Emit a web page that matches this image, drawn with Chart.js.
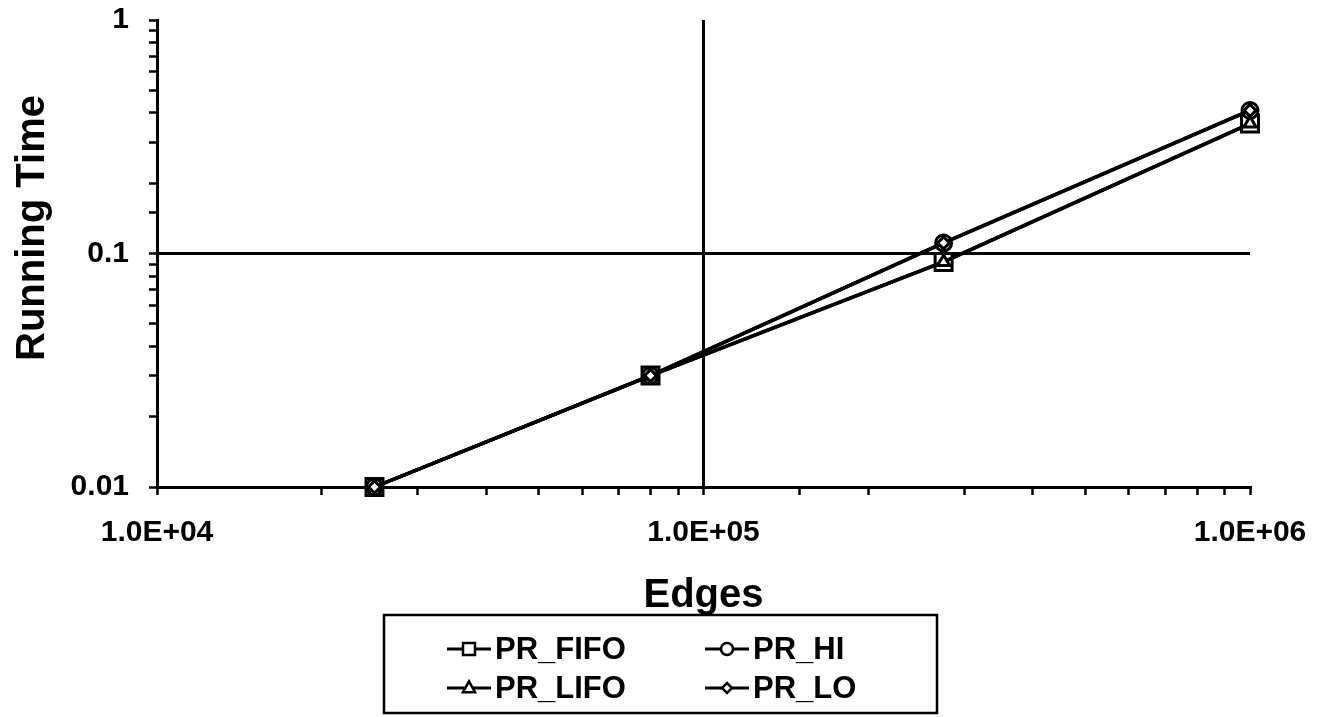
<!DOCTYPE html>
<html>
<head>
<meta charset="utf-8">
<script src="https://cdn.jsdelivr.net/npm/chart.js@4/dist/chart.umd.min.js"></script>
<style>
  html, body { margin: 0; padding: 0; background: #fff; }
  canvas { display: block; }
</style>
</head>
<body>
<canvas id="chart" width="1326" height="717"></canvas>
<script>
// data
const edges = [25000, 80000, 275000, 1000000];
const prFifo = [0.01, 0.03, 0.092, 0.36];
const prHi = [0.01, 0.03, 0.111, 0.41];
const prLifo = [0.01, 0.03, 0.092, 0.36];
const prLo = [0.01, 0.03, 0.111, 0.41];

const xTickLabels = ["1.0E+04", "1.0E+05", "1.0E+06"];
const yTickLabels = ["0.01", "0.1", "1"];

const FONT = "'Liberation Sans', Arial, Helvetica, sans-serif";

function toPoints(ys) {
  return edges.map((x, i) => ({ x: x, y: ys[i] }));
}

function decade(v) {
  const e = Math.log10(v);
  const r = Math.round(e);
  return Math.abs(e - r) < 1e-6 ? r : null;
}

// radius is chart.js point radius (rect is drawn at radius * sqrt(1/2))
const series = [
  { label: "PR_FIFO", data: prFifo, style: "rect", radius: 12, order: 3 },
  { label: "PR_HI", data: prHi, style: "circle", radius: 8, order: 2 },
  { label: "PR_LIFO", data: prLifo, style: "triangle", radius: 7, order: 1 },
  { label: "PR_LO", data: prLo, style: "rectRot", radius: 6, order: 0 },
];

const datasets = series.map((s) => ({
  label: s.label,
  data: toPoints(s.data),
  order: s.order,
  clip: false,
  borderColor: "#000",
  borderWidth: 3.5,
  tension: 0,
  pointStyle: s.style,
  pointRadius: s.radius,
  pointBorderWidth: 3,
  pointBorderColor: "#000",
  pointBackgroundColor: "#fff",
}));

// marker for the legend box
function drawMarker(ctx, style, x, y, r) {
  ctx.beginPath();
  if (style === "rect") {
    ctx.rect(x - r, y - r, 2 * r, 2 * r);
  } else if (style === "circle") {
    ctx.arc(x, y, r, 0, Math.PI * 2);
  } else if (style === "triangle") {
    ctx.moveTo(x, y - r * 1.1);
    ctx.lineTo(x + r, y + r * 0.7);
    ctx.lineTo(x - r, y + r * 0.7);
    ctx.closePath();
  } else {
    ctx.moveTo(x, y - r);
    ctx.lineTo(x + r, y);
    ctx.lineTo(x, y + r);
    ctx.lineTo(x - r, y);
    ctx.closePath();
  }
  ctx.fill();
  ctx.stroke();
}

const extras = {
  id: "extras",
  afterDraw(chart) {
    const ctx = chart.ctx;
    ctx.save();

    // y axis title
    ctx.fillStyle = "#000";
    ctx.font = "bold 40px " + FONT;
    ctx.textAlign = "center";
    ctx.textBaseline = "middle";
    ctx.translate(33, 228);
    ctx.rotate(-Math.PI / 2);
    ctx.fillText("Running Time", 0, 0);
    ctx.setTransform(1, 0, 0, 1, 0, 0);

    // legend box
    const box = { left: 384, top: 615, right: 937, bottom: 713 };
    ctx.strokeStyle = "#000";
    ctx.lineWidth = 2.5;
    ctx.strokeRect(box.left, box.top, box.right - box.left, box.bottom - box.top);

    const cols = [447, 705];
    const rows = [649, 688];
    ctx.font = "bold 31px " + FONT;
    ctx.textAlign = "left";
    series.forEach((s, i) => {
      const cx = cols[i % 2];
      const cy = rows[Math.floor(i / 2)];
      ctx.lineWidth = 3;
      ctx.beginPath();
      ctx.moveTo(cx, cy);
      ctx.lineTo(cx + 44, cy);
      ctx.stroke();
      ctx.fillStyle = "#fff";
      ctx.lineWidth = 2.5;
      drawMarker(ctx, s.style, cx + 22, cy, s.style === "rectRot" ? 5 : 6);
      ctx.fillStyle = "#000";
      ctx.fillText(s.label, cx + 48, cy + 1);
    });
    ctx.restore();
  },
};

new Chart(document.getElementById("chart").getContext("2d"), {
  type: "line",
  data: { datasets },
  options: {
    responsive: false,
    animation: false,
    events: [],
    layout: { padding: { left: 0, top: 20, right: 76, bottom: 97 } },
    plugins: {
      legend: { display: false },
      tooltip: { enabled: false },
    },
    scales: {
      x: {
        type: "logarithmic",
        min: 10000,
        max: 1000000,
        afterFit: (scale) => {
          scale.height = 133;
          scale.paddingLeft = 0;
          scale.paddingRight = 0;
        },
        border: { display: true, color: "#000", width: 3 },
        grid: {
          color: (c) => (c.tick && c.tick.value === 100000 ? "#000" : "rgba(0,0,0,0)"),
          lineWidth: 3,
          tickColor: "#000",
          tickWidth: 2.5,
          tickLength: 8,
        },
        ticks: {
          autoSkip: false,
          maxRotation: 0,
          padding: 20,
          color: "#000",
          font: { family: FONT, size: 30, weight: "bold" },
          callback: (v) => {
            const d = decade(v);
            return d === null ? "" : xTickLabels[d - 4] || "";
          },
        },
        title: {
          display: true,
          text: "Edges",
          color: "#000",
          font: { family: FONT, size: 40, weight: "bold" },
          padding: { top: 0, bottom: 0 },
        },
      },
      y: {
        type: "logarithmic",
        min: 0.01,
        max: 1,
        afterFit: (scale) => {
          scale.width = 157;
          scale.paddingTop = 0;
          scale.paddingBottom = 0;
        },
        border: { display: true, color: "#000", width: 3 },
        grid: {
          color: (c) => (c.tick && decade(c.tick.value) === -1 ? "#000" : "rgba(0,0,0,0)"),
          lineWidth: 3,
          tickColor: "#000",
          tickWidth: 2.5,
          tickLength: 8,
        },
        ticks: {
          autoSkip: false,
          padding: 20,
          color: "#000",
          font: { family: FONT, size: 30, weight: "bold" },
          callback: (v) => {
            const d = decade(v);
            return d === null ? "" : yTickLabels[d + 2] || "";
          },
        },
      },
    },
  },
  plugins: [extras],
});
</script>
</body>
</html>
